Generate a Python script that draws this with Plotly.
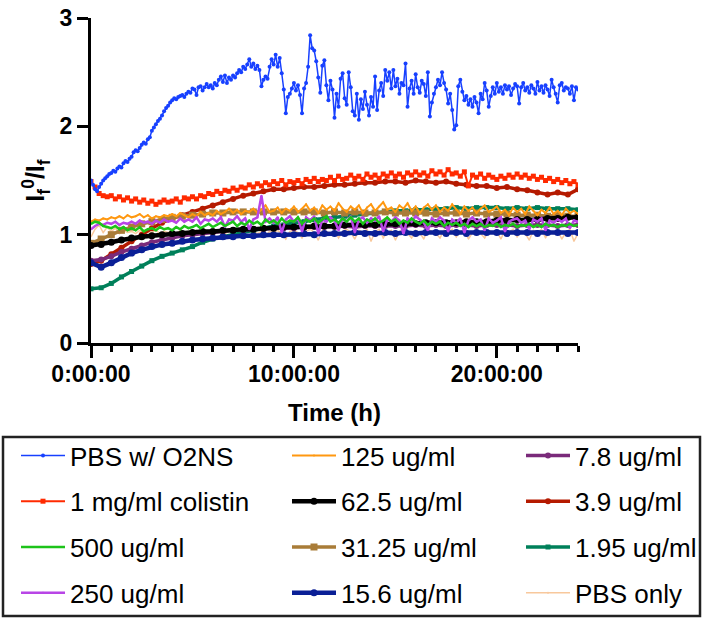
import numpy as np
import plotly.graph_objects as go

# ---------------- data ----------------
# time grids (h)
t_fine = np.round(np.arange(241) * 0.1, 2)     # PBS w/ O2NS
t_mid = np.round(np.arange(121) * 0.2, 2)      # noisy series
t_coarse = np.round(np.arange(49) * 0.5, 2)    # smooth series

pbs_o2ns = [
    1.50, 1.46, 1.42, 1.40, 1.44, 1.47, 1.50, 1.52, 1.54, 1.56,
    1.57, 1.59, 1.58, 1.61, 1.63, 1.62, 1.66, 1.68, 1.67, 1.70,
    1.72, 1.76, 1.78, 1.77, 1.80, 1.83, 1.85, 1.84, 1.88, 1.90,
    1.96, 1.99, 2.02, 2.05, 2.07, 2.10, 2.14, 2.17, 2.19, 2.22,
    2.24, 2.26, 2.25, 2.27, 2.28, 2.29, 2.27, 2.30, 2.32, 2.31,
    2.35, 2.34, 2.29, 2.36, 2.37, 2.33, 2.36, 2.39, 2.36, 2.38,
    2.35, 2.40, 2.38, 2.43, 2.46, 2.41, 2.47, 2.40, 2.45, 2.43,
    2.47, 2.45, 2.49, 2.52, 2.50, 2.55, 2.53, 2.57, 2.62, 2.55,
    2.58, 2.53, 2.56, 2.52, 2.37, 2.43, 2.46, 2.44, 2.55, 2.62,
    2.57, 2.66, 2.55, 2.63, 2.49, 2.34, 2.12, 2.27, 2.30, 2.35,
    2.40, 2.33, 2.38, 2.29, 2.12, 2.35, 2.40, 2.55, 2.84, 2.72,
    2.70, 2.60, 2.45, 2.31, 2.56, 2.61, 2.38, 2.24, 2.42, 2.34,
    2.08, 2.30, 2.18, 2.44, 2.49, 2.26, 2.20, 2.50, 2.36, 2.14,
    2.10, 2.30, 2.06, 2.25, 2.16, 2.32, 2.20, 2.10, 2.27, 2.18,
    2.46, 2.15, 2.33, 2.40, 2.28, 2.52, 2.42, 2.50, 2.35, 2.52,
    2.37, 2.44, 2.30, 2.40, 2.38, 2.58, 2.18, 2.35, 2.42, 2.30,
    2.48, 2.36, 2.31, 2.42, 2.39, 2.28, 2.50, 2.09, 2.22, 2.30,
    2.36, 2.43, 2.38, 2.50, 2.40, 2.34, 2.21, 2.30, 2.15, 1.97,
    2.01, 2.37, 2.43, 2.32, 2.24, 2.28, 2.20, 2.25, 2.18, 2.27,
    2.22, 2.12, 2.30, 2.25, 2.40, 2.33, 2.18, 2.28, 2.36, 2.30,
    2.40, 2.32, 2.36, 2.30, 2.38, 2.34, 2.37, 2.29, 2.35, 2.39,
    2.37, 2.21, 2.36, 2.40, 2.33, 2.36, 2.31, 2.38, 2.35, 2.30,
    2.41, 2.33, 2.37, 2.31, 2.38, 2.34, 2.28, 2.43, 2.36, 2.30,
    2.22, 2.38, 2.40, 2.33, 2.36, 2.35, 2.30, 2.37, 2.24, 2.36,
    2.34,
]

colistin_1mg = [
    1.49, 1.44, 1.38, 1.36, 1.35, 1.36, 1.33, 1.35, 1.32, 1.34,
    1.31, 1.33, 1.30, 1.32, 1.29, 1.31, 1.28, 1.30, 1.32, 1.30,
    1.31, 1.33, 1.30, 1.34, 1.33, 1.35, 1.33, 1.36, 1.35, 1.38,
    1.37, 1.40, 1.38, 1.41, 1.40, 1.43, 1.41, 1.44, 1.43, 1.46,
    1.44, 1.47, 1.45, 1.48, 1.46, 1.49, 1.47, 1.50, 1.46, 1.49,
    1.48, 1.50, 1.47, 1.51, 1.49, 1.52, 1.49, 1.51, 1.50, 1.53,
    1.50, 1.54, 1.51, 1.52, 1.55, 1.52, 1.54, 1.51, 1.56, 1.53,
    1.55, 1.52, 1.56, 1.54, 1.57, 1.54, 1.56, 1.53, 1.57, 1.55,
    1.58, 1.55, 1.57, 1.54, 1.59, 1.56, 1.58, 1.55, 1.60, 1.56,
    1.57, 1.54, 1.58, 1.45, 1.55, 1.53, 1.56, 1.52, 1.55, 1.53,
    1.51, 1.54, 1.52, 1.55, 1.53, 1.56, 1.53, 1.55, 1.52, 1.54,
    1.51, 1.53, 1.50, 1.52, 1.49, 1.51, 1.48, 1.50, 1.47, 1.49,
    1.46,
]

ug_500 = [
    1.10, 1.12, 1.11, 1.08, 1.07, 1.06, 1.08, 1.05, 1.07, 1.04,
    1.06, 1.04, 1.07, 1.03, 1.05, 1.06, 1.04, 1.07, 1.05, 1.06,
    1.04, 1.07, 1.05, 1.08, 1.06, 1.07, 1.09, 1.06, 1.08, 1.10,
    1.07, 1.09, 1.11, 1.08, 1.10, 1.12, 1.08, 1.11, 1.09, 1.13,
    1.10, 1.12, 1.09, 1.14, 1.11, 1.13, 1.10, 1.15, 1.11, 1.13,
    1.12, 1.16, 1.10, 1.14, 1.12, 1.15, 1.11, 1.14, 1.17, 1.12,
    1.14, 1.11, 1.15, 1.12, 1.16, 1.12, 1.15, 1.10, 1.14, 1.12,
    1.15, 1.11, 1.13, 1.16, 1.12, 1.14, 1.10, 1.13, 1.11, 1.15,
    1.12, 1.10, 1.13, 1.09, 1.12, 1.10, 1.12, 1.08, 1.11, 1.09,
    1.11, 1.08, 1.10, 1.07, 1.10, 1.08, 1.10, 1.07, 1.09, 1.08,
    1.10, 1.07, 1.09, 1.08, 1.10, 1.07, 1.09, 1.08, 1.10, 1.07,
    1.09, 1.07, 1.10, 1.08, 1.09, 1.07, 1.09, 1.08, 1.10, 1.08,
    1.09,
]

ug_250 = [
    1.05, 1.08, 1.10, 1.09, 1.11, 1.10, 1.12, 1.09, 1.11, 1.10,
    1.12, 1.10, 1.13, 1.11, 1.12, 1.10, 1.13, 1.11, 1.14, 1.12,
    1.13, 1.11, 1.15, 1.12, 1.14, 1.12, 1.16, 1.10, 1.14, 1.13,
    1.15, 1.12, 1.16, 1.07, 1.14, 1.13, 1.17, 1.12, 1.15, 1.05,
    1.14, 1.16, 1.36, 1.12, 1.15, 1.11, 1.16, 1.02, 1.14, 1.17,
    1.12, 1.15, 1.03, 1.16, 1.13, 1.17, 1.01, 1.14, 1.12, 1.16,
    1.13, 1.04, 1.15, 1.12, 1.17, 1.02, 1.14, 1.16, 1.11, 1.15,
    1.13, 1.17, 1.03, 1.14, 1.12, 1.16, 1.13, 1.01, 1.15, 1.12,
    1.17, 1.14, 1.11, 1.04, 1.15, 1.12, 1.16, 1.13, 1.03, 1.14,
    1.11, 1.15, 1.02, 1.13, 1.16, 1.12, 1.14, 1.04, 1.15, 1.11,
    1.13, 1.16, 1.03, 1.12, 1.14, 1.15, 1.11, 1.13, 1.05, 1.14,
    1.12, 1.15, 1.04, 1.13, 1.11, 1.14, 1.12, 1.15, 1.06, 1.13,
    1.12,
]

ug_125 = [
    1.12, 1.14, 1.13, 1.15, 1.14, 1.16, 1.15, 1.17, 1.15, 1.18,
    1.16, 1.17, 1.19, 1.16, 1.18, 1.15, 1.17, 1.16, 1.18, 1.17,
    1.19, 1.17, 1.20, 1.18, 1.16, 1.19, 1.17, 1.21, 1.18, 1.20,
    1.18, 1.22, 1.19, 1.21, 1.24, 1.20, 1.23, 1.19, 1.22, 1.21,
    1.24, 1.20, 1.23, 1.27, 1.21, 1.22, 1.25, 1.20, 1.24, 1.22,
    1.26, 1.21, 1.24, 1.28, 1.22, 1.25, 1.20, 1.27, 1.23, 1.26,
    1.22, 1.29, 1.24, 1.21, 1.26, 1.23, 1.27, 1.20, 1.25, 1.28,
    1.22, 1.26, 1.30, 1.23, 1.25, 1.21, 1.27, 1.24, 1.29, 1.22,
    1.26, 1.20, 1.25, 1.28, 1.23, 1.27, 1.21, 1.25, 1.22, 1.28,
    1.23, 1.19, 1.26, 1.22, 1.25, 1.20, 1.24, 1.27, 1.21, 1.23,
    1.26, 1.20, 1.23, 1.18, 1.25, 1.21, 1.24, 1.19, 1.26, 1.22,
    1.18, 1.23, 1.20, 1.25, 1.19, 1.22, 1.18, 1.24, 1.20, 1.22,
    1.19,
]

ug_62_5 = [
    0.90, 0.91, 0.93, 0.95, 0.97, 0.98, 0.99, 1.00, 1.01, 1.01,
    1.02, 1.03, 1.03, 1.04, 1.04, 1.05, 1.05, 1.06, 1.06, 1.07,
    1.07, 1.07, 1.08, 1.08, 1.08, 1.09, 1.09, 1.09, 1.09, 1.10,
    1.10, 1.10, 1.10, 1.11, 1.11, 1.11, 1.11, 1.12, 1.12, 1.12,
    1.13, 1.13, 1.14, 1.14, 1.14, 1.15, 1.15, 1.16, 1.16,
]

ug_31_25 = [
    0.92, 0.96, 1.00, 1.04, 1.07, 1.10, 1.12, 1.14, 1.16, 1.17,
    1.18, 1.19, 1.20, 1.20, 1.21, 1.21, 1.21, 1.21, 1.21, 1.21,
    1.21, 1.21, 1.21, 1.20, 1.21, 1.20, 1.21, 1.20, 1.20, 1.21,
    1.20, 1.20, 1.20, 1.20, 1.19, 1.20, 1.20, 1.19, 1.20, 1.19,
    1.19, 1.19, 1.18, 1.18, 1.18, 1.17, 1.18, 1.17, 1.17,
]

ug_15_6 = [
    0.74, 0.70, 0.74, 0.79, 0.83, 0.86, 0.89, 0.91, 0.92, 0.94,
    0.95, 0.96, 0.97, 0.98, 0.98, 0.99, 0.99, 1.00, 1.00, 1.00,
    1.00, 1.01, 1.00, 1.01, 1.01, 1.01, 1.02, 1.01, 1.01, 1.02,
    1.01, 1.02, 1.01, 1.02, 1.02, 1.01, 1.02, 1.01, 1.02, 1.02,
    1.02, 1.01, 1.02, 1.02, 1.01, 1.02, 1.02, 1.01, 1.02,
]

ug_7_8 = [
    0.76, 0.77, 0.80, 0.84, 0.87, 0.90, 0.93, 0.95, 0.97, 0.99,
    1.00, 1.01, 1.02, 1.03, 1.04, 1.04, 1.05, 1.05, 1.06, 1.06,
    1.06, 1.07, 1.07, 1.07, 1.07, 1.08, 1.07, 1.08, 1.08, 1.08,
    1.08, 1.08, 1.09, 1.08, 1.09, 1.08, 1.09, 1.09, 1.08, 1.09,
    1.09, 1.09, 1.08, 1.09, 1.09, 1.09, 1.08, 1.09, 1.09,
]

ug_3_9 = [
    0.73, 0.76, 0.82, 0.88, 0.94, 1.00, 1.06, 1.11, 1.15, 1.18,
    1.21, 1.24, 1.27, 1.30, 1.33, 1.36, 1.38, 1.40, 1.42, 1.42,
    1.43, 1.44, 1.44, 1.45, 1.46, 1.46, 1.47, 1.48, 1.48, 1.49,
    1.49, 1.48, 1.50, 1.49, 1.48, 1.49, 1.47, 1.46, 1.45, 1.45,
    1.43, 1.44, 1.42, 1.41, 1.39, 1.37, 1.39, 1.37, 1.42,
]

ug_1_95 = [
    0.50, 0.51, 0.55, 0.61, 0.66, 0.71, 0.76, 0.80, 0.83, 0.86,
    0.89, 0.93, 0.96, 0.98, 1.00, 1.02, 1.04, 1.06, 1.08, 1.09,
    1.11, 1.12, 1.14, 1.15, 1.16, 1.17, 1.18, 1.19, 1.20, 1.21,
    1.22, 1.22, 1.23, 1.23, 1.24, 1.24, 1.25, 1.24, 1.25, 1.25,
    1.25, 1.24, 1.25, 1.24, 1.25, 1.24, 1.24, 1.24, 1.23,
]

pbs_only = [
    0.98, 1.05, 1.09, 1.02, 1.07, 1.03, 1.06, 1.01, 1.04, 1.02,
    1.03, 1.01, 1.04, 1.02, 1.03, 1.02, 1.04, 1.01, 1.03, 1.02,
    1.03, 1.01, 1.04, 1.02, 1.03, 1.02, 1.04, 1.01, 1.03, 1.02,
    1.03, 1.02, 1.04, 1.01, 1.03, 1.02, 0.98, 1.04, 1.03, 1.02,
    1.04, 1.01, 1.03, 0.99, 1.03, 1.02, 1.04, 1.01, 0.96, 1.03,
    1.04, 1.02, 0.97, 1.03, 1.05, 1.02, 0.95, 1.04, 1.03, 1.01,
    1.04, 0.97, 1.03, 1.05, 1.02, 0.96, 1.04, 1.02, 1.05, 0.94,
    1.03, 1.05, 0.97, 1.02, 1.04, 0.95, 1.03, 1.05, 1.01, 0.97,
    1.04, 1.02, 0.96, 1.05, 1.03, 1.01, 0.97, 1.04, 1.02, 1.05,
    0.98, 1.03, 1.04, 0.96, 1.02, 1.05, 1.01, 0.97, 1.04, 1.02,
    1.03, 0.96, 1.04, 1.02, 1.05, 0.98, 1.03, 1.01, 0.95, 1.04,
    1.02, 1.05, 0.97, 1.03, 1.01, 1.04, 0.96, 1.02, 1.05, 0.94,
    1.01,
]

x_tick_vals = [0, 10, 20]
x_tick_text = ["0:00:00", "10:00:00", "20:00:00"]
y_tick_vals = [0, 1, 2, 3]

# ---------------- styling ----------------
FONT = "Liberation Sans, Arial, Helvetica, sans-serif"

# (name, x, y, colour, symbol, marker size, line width, legend, rank)
# listed in drawing order (first = bottom)
series = [
    ("PBS only", t_mid, pbs_only, "#F8C89C", "circle", 1, 1.5, "legend3", 4),
    ("1.95 ug/ml", t_coarse, ug_1_95, "#00805A", "square", 5, 3.5, "legend3", 3),
    ("3.9 ug/ml", t_coarse, ug_3_9, "#B51A00", "circle", 6, 3.5, "legend3", 2),
    ("7.8 ug/ml", t_coarse, ug_7_8, "#7A2A7A", "circle", 6, 3.5, "legend3", 1),
    ("15.6 ug/ml", t_coarse, ug_15_6, "#0A1F96", "circle", 7, 4.5, "legend2", 4),
    ("31.25 ug/ml", t_coarse, ug_31_25, "#A97C38", "square", 7, 3.5, "legend2", 3),
    ("62.5 ug/ml", t_coarse, ug_62_5, "#000000", "circle", 7, 4.5, "legend2", 2),
    ("125 ug/ml", t_mid, ug_125, "#FF9810", "circle", 2, 2, "legend2", 1),
    ("250 ug/ml", t_mid, ug_250, "#B845E6", "circle", 2, 2.5, "legend", 4),
    ("500 ug/ml", t_mid, ug_500, "#1DC31A", "circle", 2, 2.5, "legend", 3),
    ("1 mg/ml colistin", t_mid, colistin_1mg, "#FF2A00", "square", 5, 2, "legend", 2),
    ("PBS w/ O2NS", t_fine, pbs_o2ns, "#1740FF", "circle", 4, 1.5, "legend", 1),
]

fig = go.Figure()
for name, x, y, col, sym, msize, lw, leg, rank in series:
    fig.add_trace(go.Scatter(
        x=x, y=y, name=name, mode="lines+markers",
        line=dict(color=col, width=lw),
        marker=dict(color=col, symbol=sym, size=msize, line=dict(width=0)),
        legend=leg, legendrank=rank, legendgroup=name,
        hoverinfo="skip",
    ))

L, R, T, B = 91, 125, 18, 275
W, H = 703, 618
pw, ph = W - L - R, H - T - B


def px_to_paper_x(px):
    return (px - L) / pw


def px_to_paper_y(py):
    return (H - B - py) / ph


legend_common = dict(
    font=dict(family=FONT, size=26, color="#000000"),
    bgcolor="rgba(0,0,0,0)", borderwidth=0,
    orientation="v", xanchor="left", yanchor="top",
    y=px_to_paper_y(432), itemwidth=44, tracegroupgap=9,
    itemclick=False, itemdoubleclick=False,
)

fig.update_layout(
    width=W, height=H,
    margin=dict(l=L, r=R, t=T, b=B, pad=0, autoexpand=False),
    paper_bgcolor="white", plot_bgcolor="white",
    font=dict(family=FONT, color="#000000"),
    showlegend=True,
    legend=dict(x=px_to_paper_x(16), **legend_common),
    legend2=dict(x=px_to_paper_x(287), **legend_common),
    legend3=dict(x=px_to_paper_x(521), **legend_common),
    xaxis=dict(
        range=[0, 24], showgrid=False, zeroline=False,
        showline=True, linecolor="black", linewidth=3,
        tickmode="array", tickvals=x_tick_vals, ticktext=x_tick_text,
        ticks="outside", ticklen=12, tickwidth=3, tickcolor="black",
        ticklabelstandoff=-4,
        tickfont=dict(family=FONT, size=23, color="black", weight="bold"),
        minor=dict(tickmode="linear", tick0=0, dtick=1, ticks="outside",
                   ticklen=6, tickwidth=3, tickcolor="black", showgrid=False),
        title=dict(text="<b>Time (h)</b>", standoff=19,
                   font=dict(family=FONT, size=24, color="black")),
    ),
    yaxis=dict(
        range=[0, 3], showgrid=False, zeroline=False,
        showline=True, linecolor="black", linewidth=3,
        tickmode="array", tickvals=y_tick_vals,
        ticks="outside", ticklen=11, tickwidth=3, tickcolor="black",
        tickfont=dict(family=FONT, size=23, color="black", weight="bold"),
        title=dict(text="<b>I<sub>f</sub><sup>0</sup>/I<sub>f</sub></b>",
                   standoff=8,
                   font=dict(family=FONT, size=25, color="black")),
    ),
    shapes=[dict(
        type="rect", xref="paper", yref="paper",
        x0=px_to_paper_x(3), x1=px_to_paper_x(700),
        y0=px_to_paper_y(616), y1=px_to_paper_y(437),
        line=dict(color="#222222", width=2.5), fillcolor="rgba(0,0,0,0)",
        layer="above",
    )],
)

fig.write_html("out.html")
